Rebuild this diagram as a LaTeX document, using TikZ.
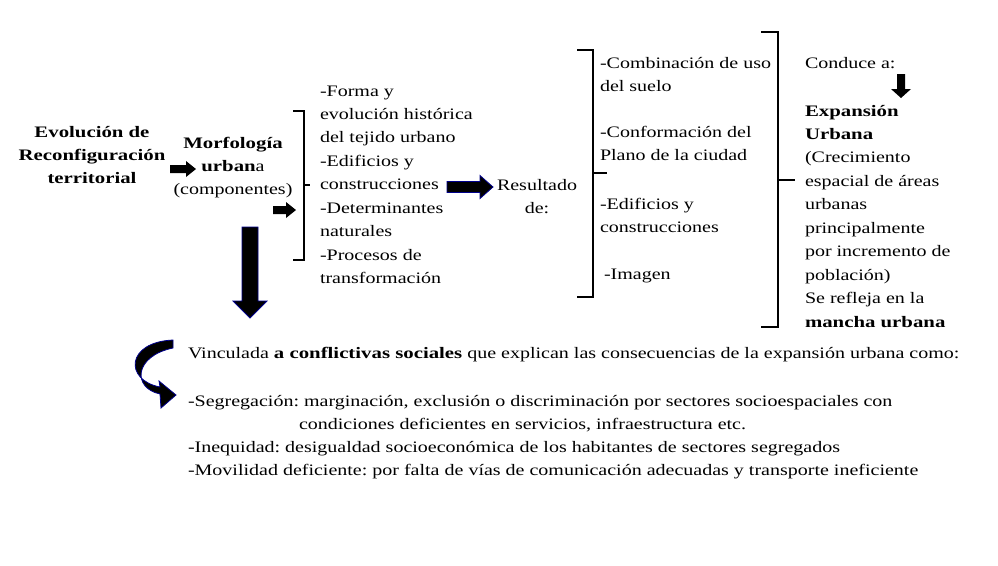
\documentclass[tikz,border=0pt]{standalone}
\usepackage{fontspec}
\setmainfont{Liberation Serif}[FakeStretch=1.25,BoldFeatures={FakeStretch=1.30}]
\frenchspacing
\begin{document}
\begin{tikzpicture}[x=0.75pt,y=-0.75pt,
  txt/.style={inner sep=0pt, outer sep=0pt, font=\fontsize{12}{17.6}\selectfont},
  brk/.style={line width=1.3pt, black},
  blk/.style={fill=black},
  blkb/.style={fill=black, draw=blue!55!black, line width=0.6pt}]
\useasboundingbox (0,0) rectangle (998,565);

% left titles
\node[txt, anchor=base] (evo) at (92,137) {\begin{tabular}[t]{@{}c@{}}\bfseries Evolución de\\ \bfseries Reconfiguración\\ \bfseries territorial\end{tabular}};
\node[txt, anchor=base] (morf) at (233,148) {\begin{tabular}[t]{@{}c@{}}\bfseries Morfología\\ \textbf{urban}a\\ (componentes)\end{tabular}};

% list 1
\node[txt, anchor=base west] (l1) at (320,96) {\begin{tabular}[t]{@{}l@{}}-Forma y\\ evolución histórica\\ del tejido urbano\\ -Edificios y\\ construcciones\\ -Determinantes\\ naturales\\ -Procesos de\\ transformación\end{tabular}};

% resultado
\node[txt, anchor=base] (res) at (537,190) {\begin{tabular}[t]{@{}c@{}}Resultado\\ de:\end{tabular}};

% list 2
\node[txt, anchor=base west] (c1) at (600,68) {\begin{tabular}[t]{@{}l@{}}-Combinación de uso\\ del suelo\end{tabular}};
\node[txt, anchor=base west] (c2) at (600,137) {\begin{tabular}[t]{@{}l@{}}-Conformación del\\ Plano de la ciudad\end{tabular}};
\node[txt, anchor=base west] (c3) at (600,209) {\begin{tabular}[t]{@{}l@{}}-Edificios y\\ construcciones\end{tabular}};
\node[txt, anchor=base west] (c4) at (604,279) {-Imagen};

% list 3
\node[txt, anchor=base west] (cond) at (805,68) {Conduce a:};
\node[txt, anchor=base west] (exp) at (805,116) {\begin{tabular}[t]{@{}l@{}}\bfseries Expansión\\ \bfseries Urbana\\ (Crecimiento\\ espacial de áreas\\ urbanas\\ principalmente\\ por incremento de\\ población)\\ Se refleja en la\\ \bfseries mancha urbana\end{tabular}};

% bottom text
\node[txt, anchor=base west] (vin) at (188,358) {Vinculada \textbf{a conflictivas sociales} que explican las consecuencias de la expansión urbana como:};
\node[txt, anchor=base west] (seg) at (188,406) {-Segregación: marginación, exclusión o discriminación por sectores socioespaciales con};
\node[txt, anchor=base west] (seg2) at (299,429) {condiciones deficientes en servicios, infraestructura etc.};
\node[txt, anchor=base west] (ine) at (188,452) {-Inequidad: desigualdad socioeconómica de los habitantes de sectores segregados};
\node[txt, anchor=base west] (mov) at (188,475) {-Movilidad deficiente: por falta de vías de comunicación adecuadas y transporte ineficiente};

% brackets
\draw[brk] (293,111) -- (304,111) -- (304,260) -- (293,260);
\draw[brk] (304,185) -- (310,185);
\draw[brk] (577,50) -- (593,50) -- (593,297) -- (577,297);
\draw[brk] (593,173) -- (607,173);
\draw[brk] (761,32) -- (778,32) -- (778,327) -- (761,327);
\draw[brk] (778,180) -- (795,180);

% arrows
\fill[blk] (170,165) -- (186,165) -- (186,161) -- (196,169) -- (186,177) -- (186,173) -- (170,173) -- cycle;
\fill[blk] (273,206) -- (286,206) -- (286,202) -- (296,210) -- (286,218) -- (286,214) -- (273,214) -- cycle;
\filldraw[blkb] (447,181.5) -- (480,181.5) -- (480,175.5) -- (493,187) -- (480,198.5) -- (480,192.5) -- (447,192.5) -- cycle;
\filldraw[blkb] (242,227) -- (258,227) -- (258,301) -- (267,301) -- (250,318) -- (233,301) -- (242,301) -- cycle;
\fill[blk] (897,74) -- (905,74) -- (905,89) -- (911,89) -- (901,98) -- (891,89) -- (897,89) -- cycle;
\filldraw[blkb] (173,340) .. controls (126,342) and (124,380) .. (160,387) -- (159,381) -- (176,395) -- (161,408) -- (160,394) .. controls (132,388) and (134,356) .. (173,348) -- cycle;
\end{tikzpicture}
\end{document}
